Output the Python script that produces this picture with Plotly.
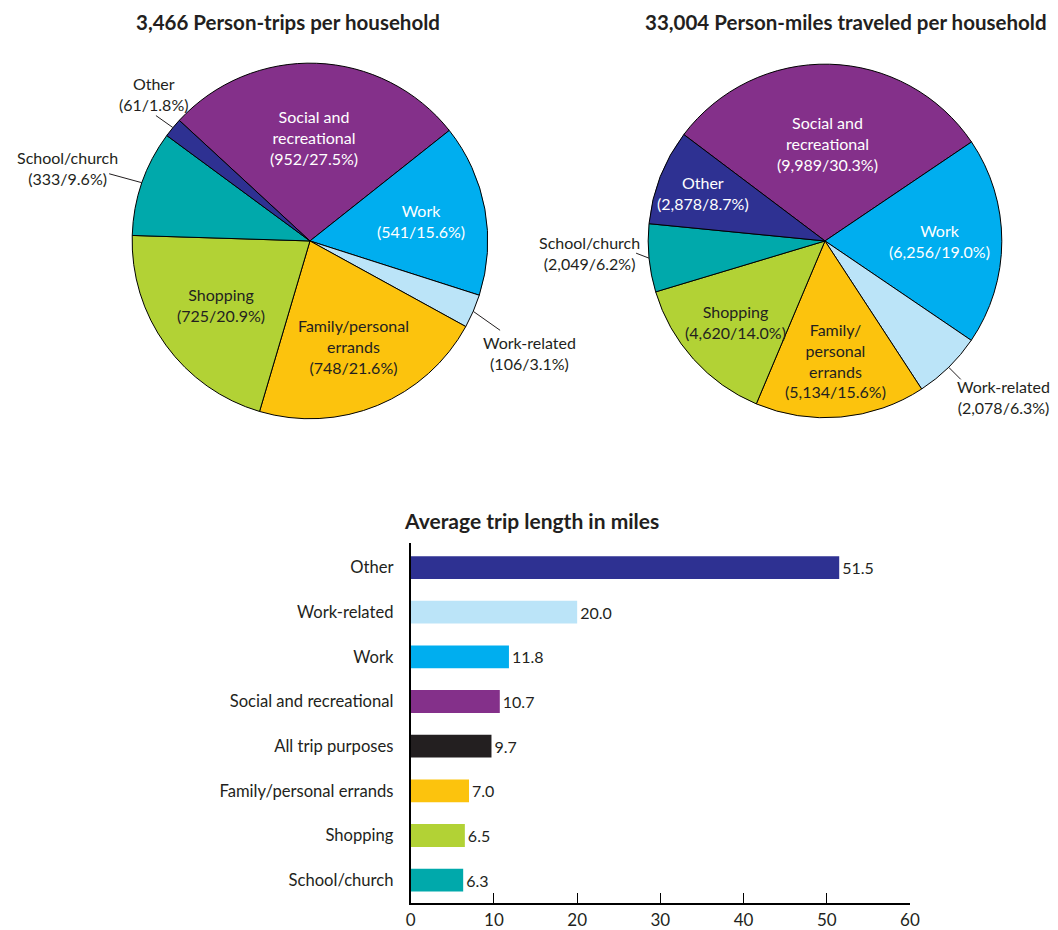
import math
import plotly.graph_objects as go

W, H = 1058, 930
# Pixel frame used to position items in paper coordinates
FRAME_W, FRAME_H = 1050, 925

# Trip purposes in clockwise pie order, starting from "Social and recreational"
purposes = ["Social and recreational", "Work", "Work-related",
            "Family/personal errands", "Shopping", "School/church", "Other"]

trips_total = 3466
trip_counts = [952, 541, 106, 748, 725, 333, 61]
trip_pcts = [27.5, 15.6, 3.1, 21.6, 20.9, 9.6, 1.8]

miles_total = 33004
mile_counts = [9989, 6256, 2078, 5134, 4620, 2049, 2878]
mile_pcts = [30.3, 19.0, 6.3, 15.6, 14.0, 6.2, 8.7]

# Average trip length by purpose (bar chart, top to bottom)
bar_purposes = ["Other", "Work-related", "Work", "Social and recreational",
                "All trip purposes", "Family/personal errands", "Shopping",
                "School/church"]
avg_length = [51.5, 20.0, 11.8, 10.7, 9.7, 7.0, 6.5, 6.3]
x_ticks = [0, 10, 20, 30, 40, 50, 60]

COLORS = {
    "Social and recreational": "#84308A",
    "Work": "#00AEEF",
    "Work-related": "#BBE4F8",
    "Family/personal errands": "#FCC30D",
    "Shopping": "#B2D235",
    "School/church": "#00A9AB",
    "Other": "#2E3192",
    "All trip purposes": "#231F20",
}
INK = "#231F20"
FONT = "Lato"
LBL = 16

fig = go.Figure()


def paper(x, y):
    return x / FRAME_W, 1 - y / FRAME_H


def label(px, py, text, size=LBL, color=INK, xanchor="center"):
    x, y = paper(px, py)
    fig.add_annotation(x=x, y=y, xref="paper", yref="paper", text=text,
                       showarrow=False, xanchor=xanchor, yanchor="middle",
                       font=dict(family=FONT, size=size, color=color))


def add_pie(cx, cy, r, rotation, counts, pcts, names, styles):
    x0, y1 = paper(cx - r, cy - r)
    x1, y0 = paper(cx + r, cy + r)
    fig.add_trace(go.Pie(
        values=counts,
        labels=purposes,
        sort=False,
        direction="clockwise",
        rotation=rotation,
        textinfo="none",
        hoverinfo="label+value+percent",
        marker=dict(colors=[COLORS[p] for p in purposes],
                    line=dict(color="black", width=1)),
        domain=dict(x=[x0, x1], y=[y0, y1]),
        showlegend=False,
    ))
    total = sum(counts)
    start = rotation
    for cnt, pct, name, st in zip(counts, pcts, names, styles):
        span = cnt / total * 360
        mid = math.radians(start + span / 2)
        start += span
        ux, uy = math.sin(mid), -math.cos(mid)
        text = f"{name}<br>({cnt:,}/{pct:.1f}%)"
        if st[0] == "in":
            frac, color = st[1], st[2]
            label(cx + frac * r * ux, cy + frac * r * uy, text, color=color)
        else:
            (lx, ly), (tx, ty) = st[1], st[2]
            px, py = cx + r * ux, cy + r * uy
            ax0, ay0 = paper(px, py)
            ax1, ay1 = paper(px + lx, py + ly)
            fig.add_shape(type="line", x0=ax0, y0=ay0, x1=ax1, y1=ay1,
                          xref="paper", yref="paper",
                          line=dict(color=INK, width=1))
            label(px + tx, py + ty, text)


names1 = ["Social and<br>recreational", "Work", "Work-related",
          "Family/personal<br>errands", "Shopping", "School/church", "Other"]
styles1 = [
    ("in", 0.58, "white"),
    ("in", 0.635, "white"),
    ("out", (27, 19), (57, 42)),
    ("in", 0.64, INK),
    ("in", 0.615, INK),
    ("out", (-33, -9), (-75, -15)),
    ("out", (-17, -12), (-19, -34)),
]
add_pie(307, 242, 179, -47.3, trip_counts, trip_pcts, names1, styles1)

names2 = ["Social and<br>recreational", "Work", "Work-related",
          "Family/<br>personal<br>errands", "Shopping", "School/church", "Other"]
styles2 = [
    ("in", 0.55, "white"),
    ("in", 0.646, "white"),
    ("out", (12, 12), (55, 30)),
    ("in", 0.68, INK),
    ("in", 0.68, INK),
    ("out", (-13, -5), (-60, -5)),
    ("in", 0.74, "white"),
]
add_pie(825.5, 242, 178, -53, mile_counts, mile_pcts, names2, styles2)

# Pie titles
label(285, 22, f"<b>{trips_total:,} Person-trips per household</b>", size=20.5)
label(847, 22, f"<b>{miles_total:,} Person-miles traveled per household</b>", size=20.5)

# Average trip length bars
fig.add_trace(go.Bar(
    x=avg_length,
    y=bar_purposes,
    orientation="h",
    width=0.51,
    marker=dict(color=[COLORS[p] for p in bar_purposes], line=dict(width=0)),
    text=[f"{v:.1f}" for v in avg_length],
    textposition="outside",
    constraintext="none",
    cliponaxis=False,
    textfont=dict(family=FONT, size=16, color=INK),
    showlegend=False,
    xaxis="x", yaxis="y",
))

label(400, 523, "<b>Average trip length in miles</b>", size=21, xanchor="left")

ax_left, ax_top = paper(408.5, 545)
ax_right, ax_bottom = paper(911, 907)

fig.update_layout(
    width=W, height=H,
    margin=dict(l=0, r=0, t=0, b=0),
    paper_bgcolor="white", plot_bgcolor="white",
    font=dict(family=FONT, color=INK),
    xaxis=dict(domain=[ax_left, ax_right], range=[0, 60], tickvals=x_ticks,
               ticks="inside", ticklen=10, tickwidth=1.3, tickcolor="black",
               showline=True, linewidth=2, linecolor="black",
               showgrid=False, zeroline=False, anchor="y",
               ticklabelstandoff=1,
               tickfont=dict(family=FONT, size=17, color=INK)),
    yaxis=dict(domain=[ax_bottom, ax_top], type="category",
               categoryorder="array", categoryarray=bar_purposes,
               range=[7.513, -0.557], showline=True, linewidth=2,
               linecolor="black", ticks="", showgrid=False, zeroline=False,
               ticklabelstandoff=12, anchor="x",
               tickfont=dict(family=FONT, size=16.6, color=INK)),
)

fig.write_html("out.html")
